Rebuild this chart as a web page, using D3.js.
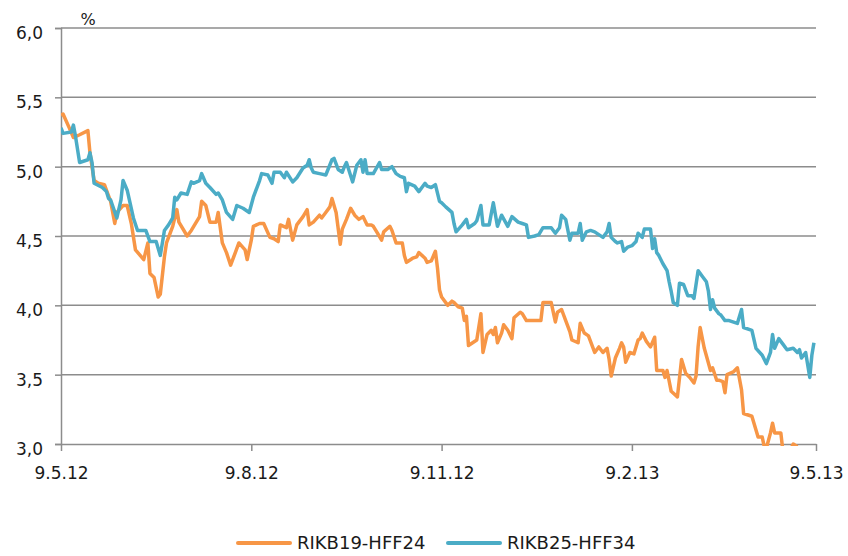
<!DOCTYPE html>
<html>
<head>
<meta charset="utf-8">
<script src="https://cdn.jsdelivr.net/npm/d3@7"></script>
<style>
  body { margin: 0; background: #fff; }
  text { font-family: "DejaVu Sans", sans-serif; fill: #1a1a1a; }
</style>
</head>
<body>
<div id="chart"></div>
<script>
// values, x is days after 9 May 2012
const startDate = new Date(2012, 4, 9);
const tickDates = ["2012-05-09", "2012-08-09", "2012-11-09", "2013-02-09", "2013-05-09"];
const yTicks = [3.0, 3.5, 4.0, 4.5, 5.0, 5.5, 6.0];
const seriesNames = ["RIKB19-HFF24", "RIKB25-HFF34"];
const seriesColors = ["#F79646", "#4BACC6"];

const orangeDays = [0,1,4,6,9,13,14,16,18,21,22,24,26,27,30,32,34,36,40,42,43,45,47,48,50,51,54,56,57,61,63,67,68,70,72,75,76,78,80,82,84,86,89,90,92,93,96,98,101,103,105,106,109,110,112,114,117,119,120,122,125,126,128,130,131,133,135,136,138,140,142,144,146,148,150,151,153,155,156,159,160,162,165,166,167,168,170,172,173,176,177,179,181,182,183,184,187,189,190,192,194,195,196,197,199,201,203,204,206,208,209,210,211,213,214,216,218,219,222,223,225,229,232,233,237,239,240,242,244,246,247,250,251,253,255,257,258,260,262,264,265,266,268,270,271,272,273,275,277,279,280,281,283,285,287,288,291,292,293,295,298,300,302,304,306,307,308,309,311,314,315,317,318,320,321,322,325,327,329,330,334,337,339,340,341,343,344,345,348,349,353,354,356];
const orangeValues = [5.37,5.38,5.28,5.21,5.23,5.26,5.10,4.90,4.88,4.87,4.83,4.75,4.59,4.67,4.72,4.72,4.59,4.40,4.33,4.45,4.23,4.20,4.06,4.08,4.35,4.45,4.57,4.69,4.60,4.50,4.54,4.64,4.75,4.72,4.60,4.60,4.67,4.45,4.38,4.29,4.37,4.45,4.40,4.33,4.47,4.57,4.59,4.59,4.49,4.48,4.46,4.58,4.56,4.62,4.47,4.58,4.64,4.69,4.58,4.60,4.65,4.63,4.67,4.71,4.77,4.67,4.44,4.55,4.62,4.70,4.65,4.62,4.64,4.58,4.58,4.57,4.52,4.47,4.53,4.57,4.54,4.45,4.45,4.36,4.31,4.32,4.34,4.35,4.38,4.34,4.31,4.32,4.39,4.27,4.11,4.06,4.00,4.03,4.02,3.99,3.98,3.89,3.92,3.71,3.73,3.75,3.94,3.66,3.79,3.82,3.79,3.84,3.73,3.80,3.86,3.82,3.76,3.91,3.95,3.94,3.89,3.89,3.89,4.02,4.02,3.88,3.95,3.97,3.89,3.81,3.75,3.73,3.87,3.80,3.78,3.70,3.66,3.70,3.66,3.69,3.61,3.49,3.62,3.69,3.73,3.70,3.59,3.66,3.65,3.75,3.76,3.80,3.74,3.70,3.77,3.53,3.53,3.48,3.53,3.38,3.34,3.61,3.51,3.48,3.44,3.49,3.70,3.84,3.69,3.53,3.55,3.46,3.46,3.45,3.37,3.50,3.52,3.55,3.39,3.22,3.20,3.05,3.05,2.98,2.97,3.08,3.15,3.08,3.08,2.95,2.97,3.00,2.98];

const tealDays = [0,1,5,6,7,9,13,14,15,16,20,22,23,24,27,29,30,32,35,37,41,43,46,48,50,52,54,55,56,58,61,63,64,67,68,70,72,75,76,78,80,83,85,88,91,93,96,97,100,102,103,106,108,109,112,114,117,119,120,121,122,125,128,131,132,134,136,137,138,141,143,145,146,147,148,151,154,155,158,160,162,164,166,167,168,171,173,176,177,179,181,183,184,186,189,190,191,194,196,197,200,201,203,204,207,209,211,213,216,218,221,223,225,226,229,231,233,237,239,241,242,244,246,247,250,251,252,254,256,258,260,262,264,265,266,268,269,271,272,274,276,278,279,281,282,285,286,287,288,289,291,293,294,295,296,298,299,301,303,305,306,308,310,312,313,314,315,316,318,319,321,323,327,329,330,334,336,339,341,343,344,345,347,349,351,354,356,357,358,360,362,363,364];
const tealValues = [5.28,5.24,5.25,5.30,5.22,5.03,5.05,5.10,5.03,4.88,4.85,4.82,4.77,4.76,4.63,4.76,4.90,4.83,4.63,4.54,4.54,4.46,4.46,4.36,4.54,4.58,4.63,4.78,4.76,4.81,4.80,4.89,4.88,4.90,4.95,4.88,4.85,4.80,4.81,4.76,4.67,4.62,4.72,4.70,4.67,4.78,4.90,4.95,4.94,4.88,4.96,4.96,4.92,4.96,4.89,4.92,4.99,5.01,5.05,4.99,4.96,4.95,4.94,5.05,5.06,4.98,4.96,5.00,5.03,4.89,5.01,5.05,4.96,5.05,4.95,4.95,5.03,4.98,4.98,5.00,4.95,4.93,4.92,4.82,4.88,4.86,4.82,4.88,4.86,4.85,4.87,4.75,4.74,4.71,4.67,4.59,4.53,4.58,4.62,4.56,4.59,4.61,4.72,4.58,4.58,4.74,4.57,4.65,4.57,4.64,4.60,4.59,4.58,4.49,4.50,4.51,4.56,4.56,4.52,4.56,4.65,4.62,4.47,4.52,4.52,4.59,4.47,4.53,4.54,4.53,4.51,4.49,4.53,4.59,4.49,4.46,4.45,4.46,4.39,4.42,4.43,4.46,4.52,4.49,4.55,4.55,4.41,4.48,4.38,4.36,4.30,4.25,4.17,4.10,4.02,4.00,4.16,4.15,4.07,4.07,4.05,4.25,4.21,4.17,4.10,3.97,4.04,3.98,3.94,3.93,3.89,3.89,3.87,3.97,3.84,3.82,3.69,3.64,3.58,3.66,3.79,3.69,3.76,3.72,3.68,3.69,3.66,3.68,3.62,3.66,3.48,3.64,3.73];

const width = 848, height = 556;
const margin = { top: 28, right: 32, bottom: 112, left: 61 };

const svg = d3.select("#chart")
  .append("svg")
  .attr("width", width)
  .attr("height", height);

const parse = d3.timeParse("%Y-%m-%d");
const ticks = tickDates.map(parse);

const xScale = d3.scaleTime()
  .domain([ticks[0], ticks[ticks.length - 1]])
  .range([margin.left, width - margin.right]);

const yScale = d3.scaleLinear()
  .domain([3, 6])
  .range([height - margin.bottom, margin.top]);

// gridlines
svg.append("g")
  .selectAll("line")
  .data(yTicks.filter(v => v > 3))
  .enter()
  .append("line")
    .attr("x1", margin.left)
    .attr("x2", width - margin.right)
    .attr("y1", d => yScale(d))
    .attr("y2", d => yScale(d))
    .attr("stroke", "#8c8c8c")
    .attr("stroke-width", 1.5);

// y axis
const yAxis = svg.append("g")
  .attr("transform", `translate(${margin.left},0)`)
  .call(d3.axisLeft(yScale)
    .tickValues(yTicks)
    .tickSize(6)
    .tickPadding(12)
    .tickFormat(d => d3.format(".1f")(d).replace(".", ",")));
yAxis.select(".domain").attr("stroke", "#8c8c8c").attr("stroke-width", 1.5);
yAxis.selectAll(".tick line").attr("stroke", "#8c8c8c").attr("stroke-width", 1.5);
yAxis.selectAll("text")
  .attr("font-size", "17px")
  .attr("font-family", "DejaVu Sans")
  .attr("fill", "#1a1a1a")
  .attr("dy", "0.62em");

// x axis
const xAxis = svg.append("g")
  .attr("transform", `translate(0,${height - margin.bottom})`)
  .call(d3.axisBottom(xScale)
    .tickValues(ticks)
    .tickSize(7)
    .tickSizeOuter(0)
    .tickPadding(16)
    .tickFormat(d3.timeFormat("%-d.%-m.%y")));
xAxis.select(".domain").attr("stroke", "#8c8c8c").attr("stroke-width", 1.5);
xAxis.selectAll(".tick line").attr("stroke", "#8c8c8c").attr("stroke-width", 1.5);
xAxis.selectAll("text")
  .attr("font-size", "17px")
  .attr("font-family", "DejaVu Sans")
  .attr("fill", "#1a1a1a");

// unit label
svg.append("text")
  .attr("x", 88)
  .attr("y", 25)
  .attr("text-anchor", "middle")
  .attr("font-size", "16px")
  .text("%");

// clip so values under 3,0 are cut at the axis
svg.append("clipPath")
  .attr("id", "plot-clip")
  .append("rect")
    .attr("x", margin.left)
    .attr("y", margin.top - 4)
    .attr("width", width - margin.left - margin.right + 4)
    .attr("height", height - margin.top - margin.bottom + 6);

const line = d3.line()
  .x(d => xScale(d.date))
  .y(d => yScale(d.value));

const toPoints = (days, values) =>
  days.map((d, i) => ({ date: d3.timeDay.offset(startDate, d), value: values[i] }));

const series = [
  toPoints(orangeDays, orangeValues),
  toPoints(tealDays, tealValues)
];

svg.append("g")
  .attr("clip-path", "url(#plot-clip)")
  .selectAll("path")
  .data(series)
  .enter()
  .append("path")
    .attr("d", line)
    .attr("fill", "none")
    .attr("stroke", (d, i) => seriesColors[i])
    .attr("stroke-width", 3.5)
    .attr("stroke-linejoin", "round");

// legend
const legendX = [238, 448];
const legend = svg.append("g");
seriesNames.forEach((name, i) => {
  legend.append("line")
    .attr("x1", legendX[i])
    .attr("x2", legendX[i] + 52)
    .attr("y1", 543)
    .attr("y2", 543)
    .attr("stroke", seriesColors[i])
    .attr("stroke-width", 4)
    .attr("stroke-linecap", "round");
  legend.append("text")
    .attr("x", legendX[i] + 59)
    .attr("y", 549)
    .attr("font-size", "18px")
    .text(name);
});
</script>
</body>
</html>
